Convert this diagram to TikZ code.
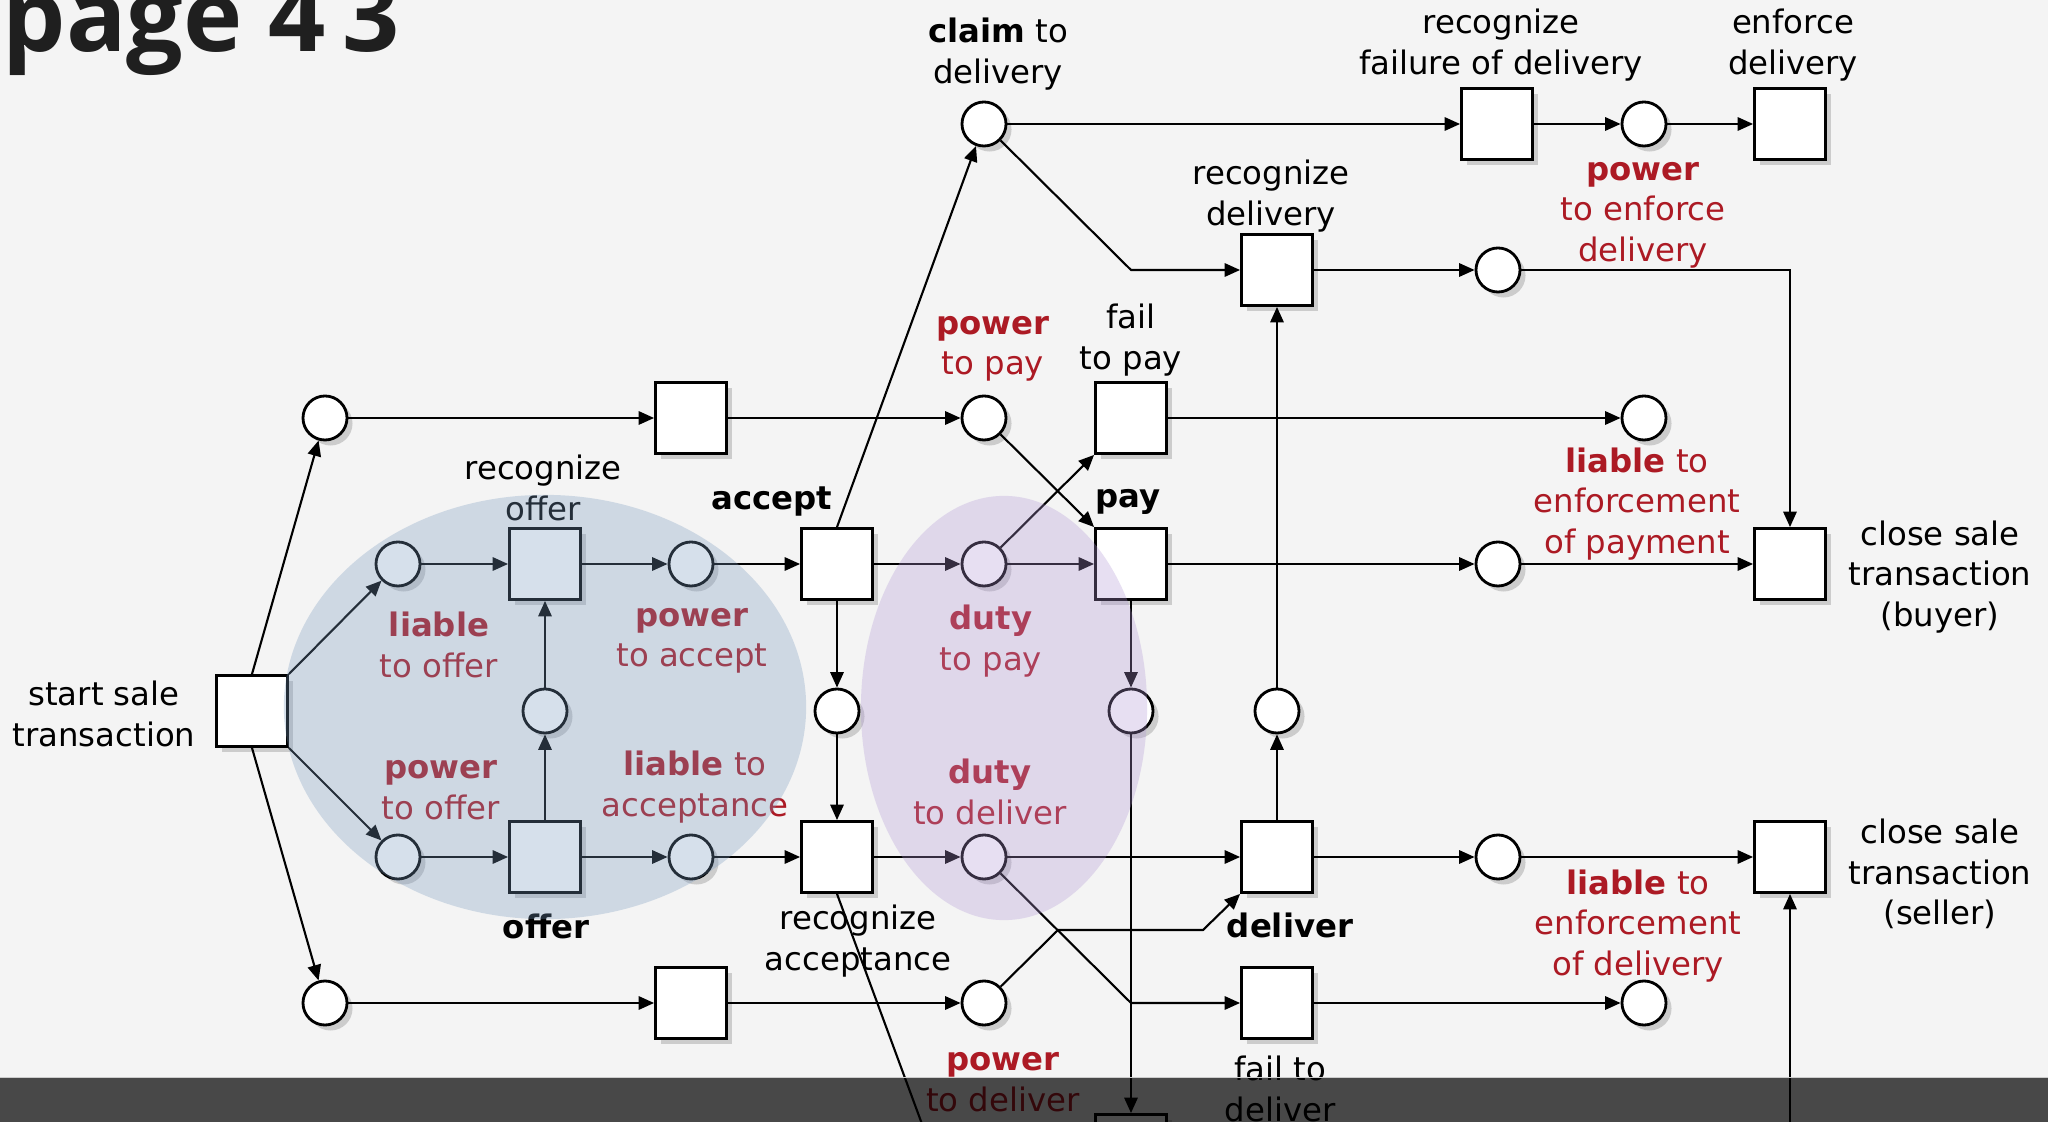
\documentclass[tikz,border=0pt]{standalone}
\usepackage{fontspec}
\setmainfont{DejaVu Sans}
\newfontfamily\titlefont{Open Sans}
\usetikzlibrary{arrows.meta,shadows}
\definecolor{bg}{HTML}{F4F4F4}
\definecolor{lblred}{RGB}{172,26,36}
\definecolor{blueov}{RGB}{121,154,191}
\definecolor{purpov}{RGB}{177,151,214}
\tikzset{
  sh/.style={drop shadow={shadow xshift=0.055cm, shadow yshift=-0.055cm, fill=black!20, opacity=1}},
  tnode/.style={draw, line width=0.8pt, fill=white, minimum size=0.71cm, inner sep=0pt, sh},
  pnode/.style={draw, circle, line width=0.8pt, fill=white, minimum size=0.44cm, inner sep=0pt, sh},
  conn/.style={line width=0.6pt, -{Triangle[length=4.4pt,width=3.8pt]}},
  plainline/.style={line width=0.6pt},
  lbl/.style={font=\fontsize{9.2pt}{11.5pt}\selectfont, align=center, inner sep=0pt, yshift=-0.04cm},
  rlbl/.style={lbl, text=lblred},
}
\begin{document}
\begin{tikzpicture}[x=0.01cm, y=-0.01cm]
\useasboundingbox (0,0) rectangle (2048,1122);
\clip (0,0) rectangle (2048,1122);
\fill[bg] (0,0) rectangle (2048,1122);

% title
\node[anchor=base west, inner sep=0pt, text=black!88, font=\titlefont\bfseries\fontsize{28.5pt}{30pt}\selectfont] (title) at (2,52) {page 4\,3};

% row A
\node[pnode] (claimC) at (984,124) {};
\node[tnode] (recFailBox) at (1497,124) {};
\node[pnode] (powerEnfC) at (1644,124) {};
\node[tnode] (enforceBox) at (1790,124) {};
% row B
\node[tnode] (recDelBox) at (1277,270) {};
\node[pnode] (enfC) at (1498,270) {};
% row C
\node[pnode] (topC) at (325,418) {};
\node[tnode] (topBox) at (691,418) {};
\node[pnode] (powerPayC) at (984,418) {};
\node[tnode] (failPayBox) at (1131,418) {};
\node[pnode] (liablePayC) at (1644,418) {};
% row D
\node[pnode] (liableOfferC) at (398,564) {};
\node[tnode] (recOfferBox) at (545,564) {};
\node[pnode] (powerAcceptC) at (691,564) {};
\node[tnode] (acceptBox) at (837,564) {};
\node[pnode] (dutyPayC) at (984,564) {};
\node[tnode] (payBox) at (1131,564) {};
\node[pnode] (buyerC) at (1498,564) {};
\node[tnode] (closeBuyerBox) at (1790,564) {};
% row E
\node[tnode] (startBox) at (252,711) {};
\node[pnode] (offerMidC) at (545,711) {};
\node[pnode] (acceptMidC) at (837,711) {};
\node[pnode] (payMidC) at (1131,711) {};
\node[pnode] (delMidC) at (1277,711) {};
% row F
\node[pnode] (powerOfferC) at (398,857) {};
\node[tnode] (offerBox) at (545,857) {};
\node[pnode] (liableAccC) at (691,857) {};
\node[tnode] (recAccBox) at (837,857) {};
\node[pnode] (dutyDelC) at (984,857) {};
\node[tnode] (deliverBox) at (1277,857) {};
\node[pnode] (sellerC) at (1498,857) {};
\node[tnode] (closeSellerBox) at (1790,857) {};
% row G
\node[pnode] (botC) at (325,1003) {};
\node[tnode] (botBox) at (691,1003) {};
\node[pnode] (powerDelC) at (984,1003) {};
\node[tnode] (failDelBox) at (1277,1003) {};
\node[pnode] (liableDelC) at (1644,1003) {};
% row H
\node[tnode] (hBox) at (1131,1150) {};

% labels
\node[lbl] (lClaim) at (998,50) {\textbf{claim} to\\delivery};
\node[lbl] (lRecFail) at (1501,41) {recognize\\failure of delivery};
\node[lbl] (lEnforce) at (1793,41) {enforce\\delivery};
\node[rlbl] (lPowerEnf) at (1643,211) {\textbf{power}\\to enforce\\delivery};
\node[lbl] (lRecDel) at (1271,192) {recognize\\delivery};
\node[rlbl] (lPowerPay) at (993,345) {\textbf{power}\\to pay};
\node[lbl] (lFailPay) at (1131,336) {fail\\to pay};
\node[rlbl] (lLiablePay) at (1637,500) {\textbf{liable} to\\enforcement\\of payment};
\node[rlbl] (lLiableOffer) at (439,641) {\textbf{liable}\\to offer};
\node[lbl] (lRecOffer) at (543,484) {recognize\\offer};
\node[rlbl] (lPowerAccept) at (692,637) {\textbf{power}\\to accept};
\node[lbl] (lAccept) at (772,498) {\textbf{accept}};
\node[rlbl] (lDutyPay) at (991,637) {\textbf{duty}\\to pay};
\node[lbl] (lPay) at (1128,498) {\textbf{pay}};
\node[lbl] (lCloseBuyer) at (1940,573) {close sale\\transaction\\(buyer)};
\node[lbl] (lStart) at (104,710) {start sale\\transaction};
\node[rlbl] (lPowerOffer) at (441,786) {\textbf{power}\\to offer};
\node[lbl] (lOffer) at (546,922) {\textbf{offer}};
\node[rlbl] (lLiableAcc) at (695,783) {\textbf{liable} to\\acceptance};
\node[lbl] (lRecAcc) at (858,937) {recognize\\acceptance};
\node[rlbl] (lDutyDel) at (990,788) {\textbf{duty}\\to deliver};
\node[lbl] (lDeliver) at (1290,921) {\textbf{deliver}};
\node[lbl] (lCloseSeller) at (1940,870) {close sale\\transaction\\(seller)};
\node[rlbl] (lLiableDel) at (1638,922) {\textbf{liable} to\\enforcement\\of delivery};
\node[rlbl] (lPowerDel) at (1003,1078) {\textbf{power}\\to deliver};
\node[lbl] (lFailDel) at (1280,1085) {fail to\\deliver};

% connectors
\coordinate (bendA) at (1131,270);
\coordinate (bendB) at (1131,1003);
\coordinate (bendC1) at (1058,930);
\coordinate (bendC2) at (1203,930);
\coordinate (offA) at (987,1300);
\coordinate (offB) at (1790,1250);

\draw[conn] (startBox.north) -- (topC);
\draw[conn] (startBox.north east) -- (liableOfferC);
\draw[conn] (startBox.south east) -- (powerOfferC);
\draw[conn] (startBox.south) -- (botC);
\draw[conn] (topC) -- (topBox);
\draw[conn] (topBox) -- (powerPayC);
\draw[conn] (powerPayC) -- (payBox.north west);
\draw[conn] (dutyPayC) -- (failPayBox.south west);
\draw[conn] (failPayBox) -- (liablePayC);
\draw[conn] (liableOfferC) -- (recOfferBox);
\draw[conn] (recOfferBox) -- (powerAcceptC);
\draw[conn] (powerAcceptC) -- (acceptBox);
\draw[conn] (acceptBox) -- (dutyPayC);
\draw[conn] (dutyPayC) -- (payBox);
\draw[conn] (payBox) -- (buyerC);
\draw[conn] (buyerC) -- (closeBuyerBox);
\draw[conn] (acceptBox.north) -- (claimC);
\draw[conn] (claimC) -- (recFailBox);
\draw[conn] (recFailBox) -- (powerEnfC);
\draw[conn] (powerEnfC) -- (enforceBox);
\draw[conn] (claimC) -- (bendA) -- (recDelBox);
\draw[conn] (recDelBox) -- (enfC);
\draw[conn] (enfC) -| (closeBuyerBox);
\draw[conn] (offerMidC) -- (recOfferBox);
\draw[conn] (offerBox) -- (offerMidC);
\draw[conn] (powerOfferC) -- (offerBox);
\draw[conn] (offerBox) -- (liableAccC);
\draw[conn] (liableAccC) -- (recAccBox);
\draw[conn] (acceptBox) -- (acceptMidC);
\draw[conn] (acceptMidC) -- (recAccBox);
\draw[conn] (recAccBox) -- (dutyDelC);
\draw[conn] (dutyDelC) -- (deliverBox);
\draw[conn] (deliverBox) -- (sellerC);
\draw[conn] (sellerC) -- (closeSellerBox);
\draw[conn] (deliverBox) -- (delMidC);
\draw[conn] (delMidC) -- (recDelBox);
\draw[conn] (payBox) -- (payMidC);
\draw[conn] (payMidC) -- (hBox);
\draw[conn] (dutyDelC) -- (bendB) -- (failDelBox);
\draw[conn] (powerDelC) -- (bendC1) -- (bendC2) -- (deliverBox.south west);
\draw[conn] (failDelBox) -- (liableDelC);
\draw[conn] (botC) -- (botBox);
\draw[conn] (botBox) -- (powerDelC);
\draw[plainline] (recAccBox.south) -- (offA);
\draw[conn] (offB) -- (closeSellerBox);

% tinted regions
\fill[blueov, opacity=0.3] (545,707) ellipse [x radius=2.61cm, y radius=2.12cm];
\fill[purpov, opacity=0.3] (1004,708) ellipse [x radius=1.43cm, y radius=2.12cm];

% bottom bar
\fill[black, opacity=0.7] (0,1078) rectangle (2048,1122);
\draw[black!20, line width=0.3pt] (0,1077.6) -- (2048,1077.6);
\end{tikzpicture}
\end{document}
